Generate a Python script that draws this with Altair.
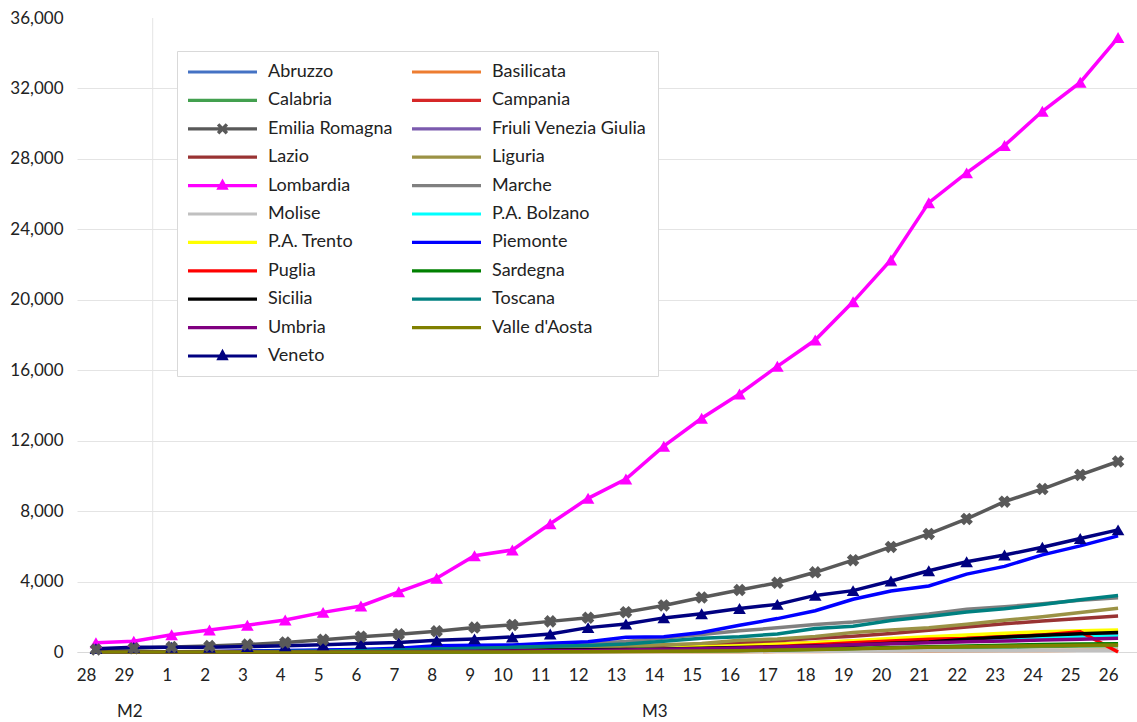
import math
import altair as alt
import pandas as pd

dates = ["28", "29", "1", "2", "3", "4", "5", "6", "7", "8", "9", "10", "11", "12",
         "13", "14", "15", "16", "17", "18", "19", "20", "21", "22", "23", "24", "25", "26"]

regions = ["Abruzzo", "Basilicata", "Calabria", "Campania", "Emilia Romagna",
           "Friuli Venezia Giulia", "Lazio", "Liguria", "Lombardia", "Marche",
           "Molise", "P.A. Bolzano", "P.A. Trento", "Piemonte", "Puglia",
           "Sardegna", "Sicilia", "Toscana", "Umbria", "Valle d'Aosta", "Veneto"]

colors = ["#4472C4", "#ED7D31", "#43A04F", "#D62728", "#595959",
          "#7B5AAE", "#993333", "#9B9245", "#FF00FF", "#808080",
          "#C0C0C0", "#00FFFF", "#FFFF00", "#0000FF", "#FF0000",
          "#008000", "#000000", "#008080", "#800080", "#808000", "#000080"]

abruzzo = [0, 1, 2, 5, 5, 7, 9, 11, 17, 30, 38, 47, 84, 89, 112, 137, 176, 229, 253, 307, 386, 493, 577, 633, 719, 806, 894, 981]
basilicata = [0, 0, 0, 0, 0, 1, 3, 3, 3, 5, 6, 8, 9, 10, 10, 12, 16, 17, 24, 34, 43, 52, 61, 69, 80, 89, 100, 112]
calabria = [0, 0, 0, 0, 1, 1, 1, 2, 5, 11, 13, 19, 26, 33, 38, 60, 68, 95, 114, 129, 146, 175, 208, 235, 260, 311, 335, 357]
campania = [3, 13, 13, 17, 31, 31, 47, 82, 100, 120, 140, 154, 179, 220, 263, 294, 337, 400, 460, 535, 606, 700, 778, 856, 940, 1030, 1120, 1200]
emilia = [145, 217, 285, 335, 420, 544, 698, 870, 1010, 1180, 1386, 1536, 1739, 1947, 2263, 2644, 3093, 3522, 3931, 4525, 5214, 5968, 6705, 7555, 8535, 9254, 10054, 10816]
friuli = [0, 0, 18, 18, 18, 18, 22, 38, 44, 60, 93, 116, 148, 176, 226, 261, 301, 347, 400, 462, 534, 600, 670, 740, 810, 880, 950, 1010]
lazio = [3, 6, 6, 6, 7, 14, 24, 44, 60, 76, 102, 116, 150, 200, 238, 300, 400, 497, 640, 779, 900, 1050, 1230, 1420, 1600, 1760, 1900, 2040]
liguria = [0, 0, 19, 22, 25, 26, 30, 34, 45, 67, 110, 148, 194, 257, 337, 405, 481, 667, 739, 887, 1109, 1246, 1378, 1569, 1800, 2000, 2240, 2480]
lombardia = [531, 615, 984, 1254, 1520, 1820, 2251, 2612, 3420, 4189, 5469, 5791, 7280, 8725, 9820, 11685, 13272, 14649, 16220, 17713, 19884, 22264, 25515, 27206, 28761, 30703, 32346, 34889]
marche = [6, 11, 11, 25, 31, 61, 84, 124, 155, 199, 271, 323, 394, 479, 592, 800, 1000, 1200, 1371, 1568, 1708, 1943, 2154, 2421, 2569, 2736, 2934, 3080]
molise = [0, 0, 0, 0, 0, 0, 0, 1, 5, 9, 9, 11, 15, 16, 17, 18, 24, 29, 37, 41, 45, 54, 64, 75, 84, 94, 100, 104]
bolzano = [0, 0, 1, 1, 1, 1, 4, 9, 11, 20, 37, 56, 73, 99, 123, 184, 249, 302, 369, 414, 464, 557, 612, 696, 766, 830, 870, 900]
trento = [0, 0, 0, 0, 2, 4, 6, 9, 15, 25, 40, 55, 75, 100, 130, 180, 300, 360, 440, 540, 641, 760, 870, 970, 1060, 1150, 1200, 1250]
piemonte = [11, 11, 11, 13, 56, 82, 108, 143, 207, 360, 380, 401, 501, 580, 840, 860, 1111, 1516, 1897, 2341, 2992, 3461, 3752, 4420, 4861, 5515, 6024, 6593]
puglia = [0, 1, 1, 1, 3, 5, 11, 15, 26, 33, 50, 60, 73, 94, 103, 130, 190, 239, 319, 413, 522, 621, 722, 763, 870, 960, 1150, 0]
sardegna = [0, 0, 0, 0, 2, 2, 2, 3, 7, 11, 18, 23, 29, 39, 50, 62, 73, 92, 115, 162, 202, 250, 300, 339, 378, 420, 450, 470]
sicilia = [4, 4, 5, 7, 9, 18, 19, 31, 43, 53, 64, 83, 115, 121, 140, 171, 213, 250, 282, 340, 400, 490, 561, 721, 846, 947, 1034, 1104]
toscana = [2, 2, 11, 13, 19, 38, 61, 79, 113, 166, 208, 264, 320, 364, 455, 614, 781, 866, 1025, 1330, 1461, 1793, 2012, 2277, 2461, 2699, 2972, 3205]
umbria = [0, 0, 0, 1, 2, 6, 9, 12, 21, 26, 40, 52, 69, 87, 113, 158, 186, 231, 282, 326, 407, 463, 529, 581, 626, 680, 730, 780]
valle_aosta = [0, 0, 0, 0, 0, 0, 0, 0, 0, 1, 3, 7, 11, 17, 23, 40, 50, 65, 108, 141, 178, 227, 266, 300, 330, 360, 380, 400]
veneto = [191, 263, 273, 273, 307, 360, 407, 488, 543, 670, 744, 856, 1023, 1384, 1595, 1937, 2172, 2473, 2704, 3214, 3484, 4031, 4617, 5122, 5505, 5948, 6442, 6935]

series = [abruzzo, basilicata, calabria, campania, emilia, friuli, lazio, liguria,
          lombardia, marche, molise, bolzano, trento, piemonte, puglia, sardegna,
          sicilia, toscana, umbria, valle_aosta, veneto]

group_labels = ["M2", "M3"]

rows = []
for ri, (name, vals) in enumerate(zip(regions, series)):
    for di, (d, v) in enumerate(zip(dates, vals)):
        rows.append({"region": name, "date": d, "value": v, "ri": ri, "di": di})
df = pd.DataFrame(rows)

# legend fills column by column: put every other region in the first column
legend_order = regions[0::2] + regions[1::2]
color_of = dict(zip(regions, colors))
legend_colors = [color_of[r] for r in legend_order]

W, H = 1060, 634
step = W / len(dates)

# legend symbols: line swatch (+ marker) as custom paths
def rect():
    return "M-1,-0.16L5.9,-0.16L5.9,0.16L-1,0.16Z"

def tri():
    c = 2.45
    return "M%.3f,-0.72L%.3f,0.42L%.3f,0.42Z" % (c, c + 0.62, c - 0.62)

def xmark():
    c = 2.45
    a, t = 0.62, 0.17
    pts = [(-t, -a), (t, -a), (t, -t), (a, -t), (a, t), (t, t), (t, a), (-t, a),
           (-t, t), (-a, t), (-a, -t), (-t, -t)]
    s = 1 / math.sqrt(2)
    rp = [((x - y) * s + c, (x + y) * s) for x, y in pts]
    return "M" + "L".join("%.3f,%.3f" % p for p in rp) + "Z"

paths = []
for r in legend_order:
    p = rect()
    if r in ("Lombardia", "Veneto"):
        p += tri()
    elif r == "Emilia Romagna":
        p += xmark()
    paths.append(p)

xscale = alt.Scale(domain=dates, type="point", padding=0.5)
xenc = alt.X("date:O", scale=xscale,
             axis=alt.Axis(title=None, labelAngle=0, ticks=False, domain=True,
                           domainColor="#D9D9D9", grid=False, labelPadding=23,
                           labelFont="Lato", labelFontSize=17, labelColor="#222222"))
yenc = alt.Y("value:Q", scale=alt.Scale(domain=[0, 36000], nice=False),
             axis=alt.Axis(title=None, values=list(range(0, 36001, 4000)), format=",d",
                           ticks=False, domain=False, grid=True, gridColor="#E4E4E4",
                           gridOpacity={"condition": {"test": "datum.value >= 36000", "value": 0}, "value": 1},
                           labelPadding=14, labelFont="Lato", labelFontSize=17,
                           labelColor="#222222"))
cscale = alt.Scale(domain=legend_order, range=legend_colors)

leg = alt.Legend(orient="none", legendX=100, legendY=33, columns=2, title=None,
                 symbolSize=400, symbolStrokeWidth=0, labelOffset=60,
                 labelFont="Lato", labelFontSize=18, labelColor="#222222",
                 rowPadding=9.4, columnPadding=19, padding=11,
                 strokeColor="#D9D9D9", fillColor="white", labelLimit=300)

legend_layer = alt.Chart(pd.DataFrame({"region": regions})).transform_filter("false").mark_point(
    filled=True, opacity=1).encode(
    color=alt.Color("region:N", scale=cscale, legend=leg),
    shape=alt.Shape("region:N", scale=alt.Scale(domain=legend_order, range=paths), legend=leg),
)

sep = alt.Chart(pd.DataFrame({"date": ["29"]})).mark_rule(
    color="#E4E4E4", strokeWidth=1, xOffset=step / 2
).encode(x=alt.X("date:O", scale=xscale))

lines = alt.Chart(df).mark_line(strokeWidth=3.5).encode(
    x=xenc, y=yenc,
    color=alt.Color("region:N", scale=cscale, legend=None),
    order=alt.Order("di:Q"),
)

tris = alt.Chart(df).transform_filter(
    "datum.region == 'Lombardia' || datum.region == 'Veneto'"
).mark_point(shape="triangle-up", filled=True, size=160, opacity=1).encode(
    x=xenc, y=yenc, color=alt.Color("region:N", scale=cscale, legend=None))

xs = alt.Chart(df).transform_filter("datum.region == 'Emilia Romagna'").mark_point(
    shape="cross", angle=45, filled=True, size=160, opacity=1).encode(
    x=xenc, y=yenc, color=alt.Color("region:N", scale=cscale, legend=None))

m2 = alt.Chart(pd.DataFrame({"date": ["29"], "g": [group_labels[0]]})).mark_text(
    font="Lato", fontSize=17, color="#222222", dx=-4, baseline="middle").encode(
    x=alt.X("date:O", scale=xscale), y=alt.value(H + 60), text="g:N")
m3 = alt.Chart(pd.DataFrame({"date": ["14"], "g": [group_labels[1]]})).mark_text(
    font="Lato", fontSize=17, color="#222222", dx=-9, baseline="middle").encode(
    x=alt.X("date:O", scale=xscale), y=alt.value(H + 60), text="g:N")

chart = alt.layer(legend_layer, sep, lines, tris, xs, m2, m3).properties(
    width=W, height=H,
    autosize=alt.AutoSizeParams(type="none"),
    padding={"left": 77, "top": 18, "right": 0, "bottom": 70},
    background="white",
).configure_view(stroke=None)

chart.save("out.html", embed_options={"renderer": "svg", "actions": False})
